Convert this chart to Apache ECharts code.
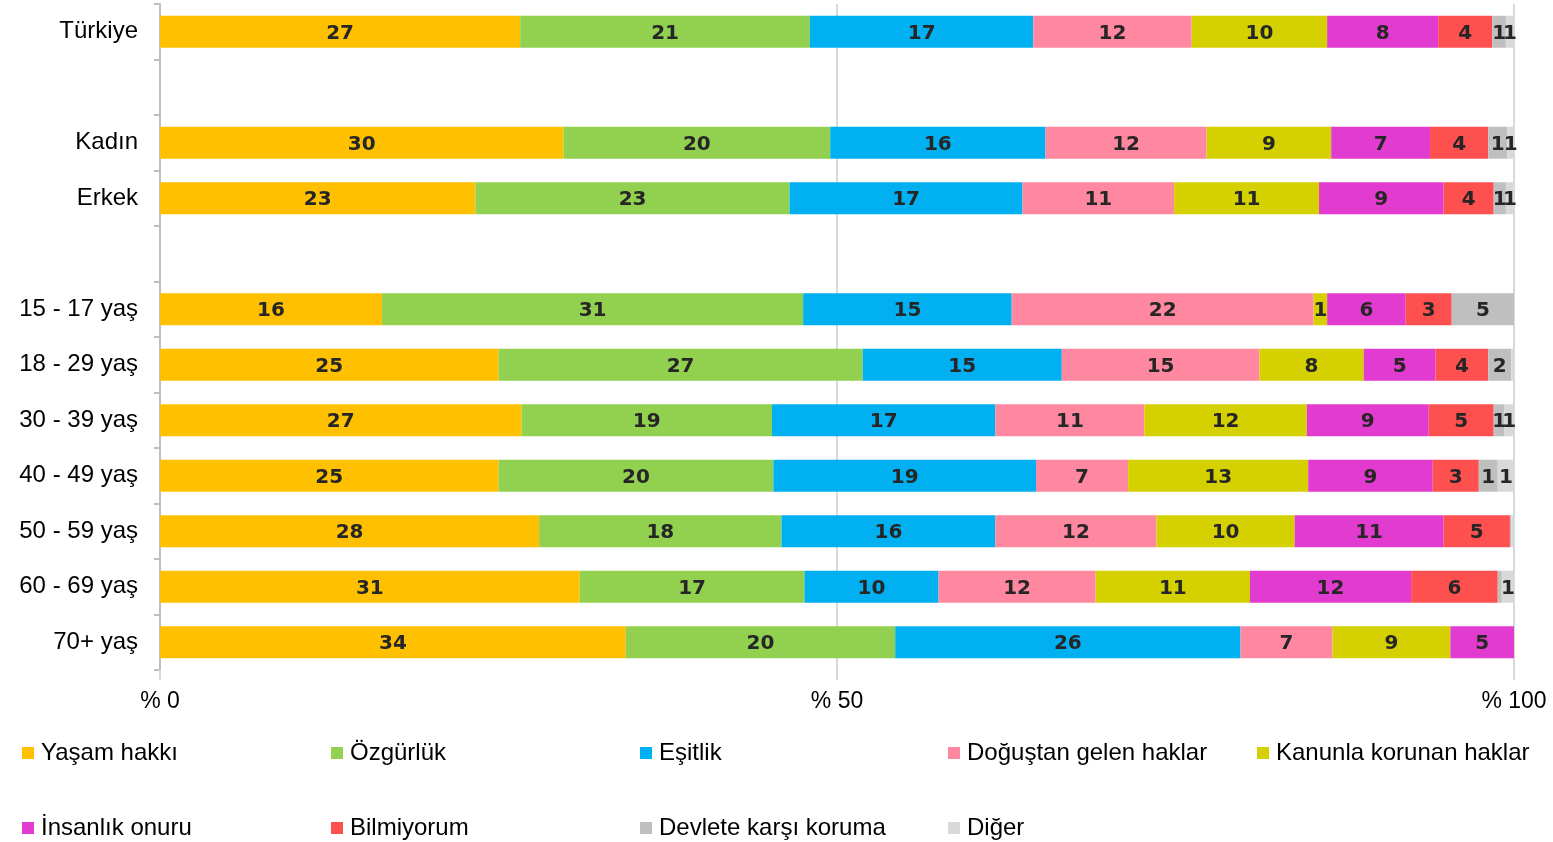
<!DOCTYPE html>
<html>
<head>
	<title>Haklar</title>
	<meta charset="utf-8"/>
	<style type="text/css">
		html,body{
			margin: 0;
			padding: 0;
			background: #ffffff;
		}
		#chart{
			width: 1553px;
			height: 842px;
		}
	</style>
</head>
<body>
	<div id="chart"></div>

	<script src="https://cdn.jsdelivr.net/npm/echarts@6/dist/echarts.min.js"></script>
	<script type="text/javascript">

		// rows from top to bottom, blank rows are the gaps between groups
		var categories = ['Türkiye', ' ', 'Kadın', 'Erkek', '  ', '15 - 17 yaş', '18 - 29 yaş', '30 - 39 yaş', '40 - 49 yaş', '50 - 59 yaş', '60 - 69 yaş', '70+ yaş'];

		var seriesNames = ['Yaşam hakkı', 'Özgürlük', 'Eşitlik', 'Doğuştan gelen haklar', 'Kanunla korunan haklar', 'İnsanlık onuru', 'Bilmiyorum', 'Devlete karşı koruma', 'Diğer'];

		var yasam     = [26.6, null, 29.8, 23.3, null, 16.4, 25.0, 26.7, 25.0, 28.0, 31.0, 34.4];
		var ozgurluk  = [21.4, null, 19.7, 23.2, null, 31.1, 26.9, 18.5, 20.3, 17.9, 16.6, 19.9];
		var esitlik   = [16.5, null, 15.9, 17.2, null, 15.4, 14.7, 16.5, 19.4, 15.8, 9.9, 25.5];
		var dogustan  = [11.7, null, 11.9, 11.2, null, 22.3, 14.6, 11.0, 6.8, 11.9, 11.6, 6.8];
		var kanunla   = [10.0, null, 9.2, 10.7, null, 1.0, 7.7, 12.0, 13.3, 10.2, 11.4, 8.7];
		var insanlik  = [8.2, null, 7.3, 9.2, null, 5.8, 5.3, 9.0, 9.2, 11.0, 11.9, 4.7];
		var bilmiyorum = [4.0, null, 4.3, 3.7, null, 3.4, 3.9, 4.8, 3.4, 4.9, 6.4, 0];
		var devlete   = [1.0, null, 1.4, 0.9, null, 4.6, 1.7, 0.8, 1.4, 0.1, 0.3, 0];
		var diger     = [0.6, null, 0.5, 0.6, null, 0, 0.2, 0.7, 1.2, 0.2, 0.9, 0];

		var xTicks = [0, 50, 100];

		var colors = ['#FFC000', '#92D050', '#00B0F0', '#FF88A0', '#D5D000', '#E23BCF', '#FF5050', '#BFBFBF', '#D9D9D9'];
		var allData = [yasam, ozgurluk, esitlik, dogustan, kanunla, insanlik, bilmiyorum, devlete, diger];

		var chart = echarts.init(document.getElementById('chart'));

		var series = [];
		for(var i=0;i<seriesNames.length;i++){
			series.push({
				name: seriesNames[i],
				type: 'bar',
				stack: 'total',
				barWidth: 32,
				data: allData[i],
				itemStyle: { color: colors[i] },
				label: {
					show: true,
					position: 'inside',
					offset: [0, 2],
					color: '#262626',
					fontFamily: 'DejaVu Sans',
					fontWeight: 'bold',
					fontSize: 20,
					formatter: function(p){
						if(p.value == null || p.value < 0.5) return '';
						return Math.round(p.value);
					}
				}
			});
		}

		// legend laid out in 5 columns, two rows
		var legendCols = [
			[seriesNames[0], seriesNames[5]],
			[seriesNames[1], seriesNames[6]],
			[seriesNames[2], seriesNames[7]],
			[seriesNames[3], seriesNames[8]],
			[seriesNames[4]]
		];
		var legendLeft = [22, 331, 640, 948, 1257];
		var legends = [];
		for(var c=0;c<legendCols.length;c++){
			legends.push({
				data: legendCols[c],
				orient: 'vertical',
				left: legendLeft[c],
				top: 740,
				padding: 0,
				itemGap: 49,
				itemWidth: 12,
				itemHeight: 12,
				icon: 'rect',
				selectedMode: false,
				textStyle: {
					fontFamily: 'Liberation Sans',
					fontSize: 24,
					lineHeight: 26,
					color: '#000000',
					padding: [0, 0, 0, 2]
				}
			});
		}

		var option = {
			animation: false,
			backgroundColor: '#ffffff',
			grid: {
				left: 160,
				right: 39,
				top: 4,
				bottom: 172
			},
			legend: legends,
			xAxis: {
				type: 'value',
				min: xTicks[0],
				max: xTicks[xTicks.length - 1],
				interval: 50,
				axisLine: { show: false },
				axisTick: {
					show: true,
					length: 10,
					lineStyle: { color: '#D9D9D9', width: 2 }
				},
				splitLine: {
					show: true,
					lineStyle: { color: '#D9D9D9', width: 2 }
				},
				axisLabel: {
					margin: 20,
					fontFamily: 'Liberation Sans',
					fontSize: 23,
					color: '#000000',
					formatter: function(v){ return '% ' + v; }
				}
			},
			yAxis: {
				type: 'category',
				inverse: true,
				data: categories,
				axisLine: {
					show: true,
					lineStyle: { color: '#BFBFBF', width: 2 }
				},
				axisTick: {
					show: true,
					length: 6,
					lineStyle: { color: '#BFBFBF', width: 2 }
				},
				axisLabel: {
					margin: 22,
					padding: [4, 0, 0, 0],
					fontFamily: 'Liberation Sans',
					fontSize: 24,
					color: '#000000'
				}
			},
			series: series
		};

		chart.setOption(option);

	</script>
</body>
</html>
